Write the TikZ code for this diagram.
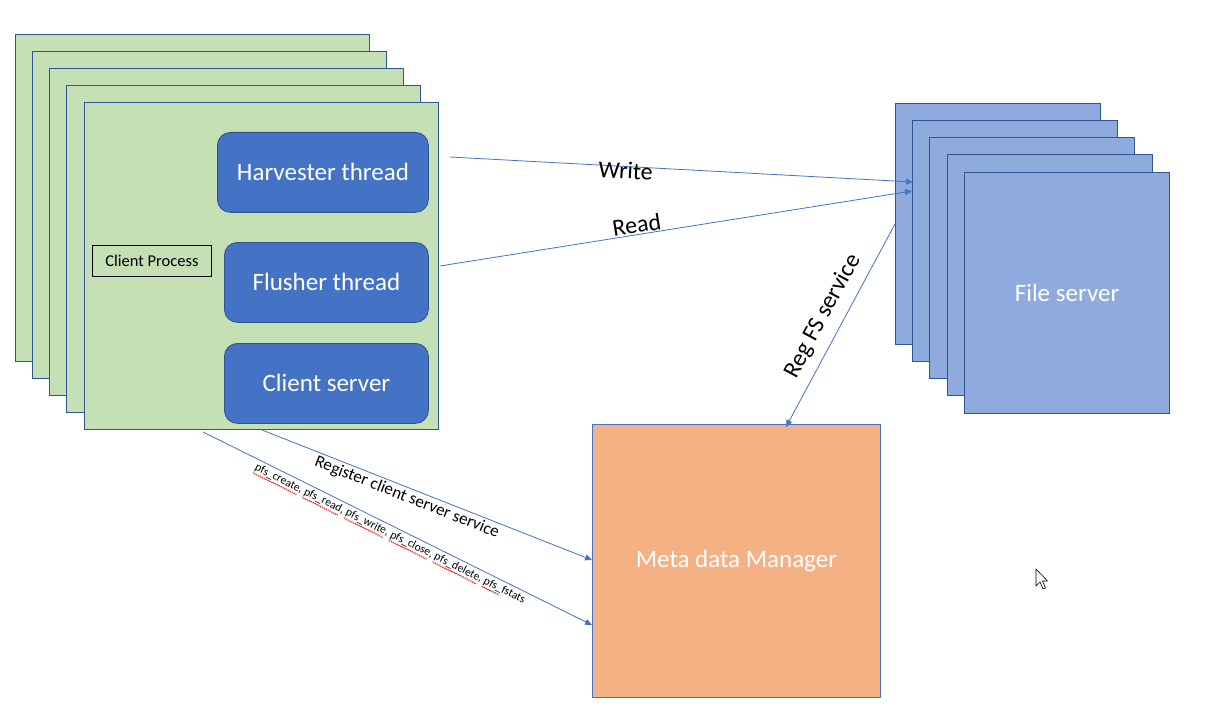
\documentclass[tikz,border=0pt]{standalone}
\usepackage{fontspec}
\setmainfont{Carlito}
\usetikzlibrary{arrows.meta,decorations.pathmorphing}
\definecolor{cgreen}{HTML}{C5E0B4}
\definecolor{cedge}{HTML}{2F5597}
\definecolor{cthread}{HTML}{4472C4}
\definecolor{cthreadedge}{HTML}{2F528F}
\definecolor{cfs}{HTML}{8FAADC}
\definecolor{cmdm}{HTML}{F4B183}
\definecolor{carrow}{HTML}{4472C4}
\newcommand{\spellsq}[1]{\tikz[baseline=(w.base)]{\node[inner sep=0pt,outer sep=0pt] (w) {#1};\draw[arrows=-,draw=red,line width=0.45pt,decorate,decoration={snake,amplitude=0.6pt,segment length=2.4pt}] ([yshift=-1.4pt]w.south west) -- ([yshift=-1.4pt]w.south east);}}
\begin{document}
\begin{tikzpicture}[x=1pt,y=-1pt,
  procbox/.style={draw=cedge,fill=cgreen,line width=1pt,anchor=north west,inner sep=0pt,minimum width=354pt,minimum height=327pt},
  fsbox/.style={draw=cedge,fill=cfs,line width=1pt,anchor=north west,inner sep=0pt,minimum width=205pt,minimum height=241pt},
  threadbox/.style={draw=cthreadedge,fill=cthread,line width=0.8pt,rounded corners=13pt,anchor=north west,inner sep=0pt,minimum height=80pt,text=white,font=\fontsize{25}{30}\selectfont},
  conn/.style={draw=carrow,line width=0.8pt,-{Triangle[length=7pt,width=6pt]}},
  lbl/.style={font=\fontsize{24}{28}\selectfont,text=black,inner sep=1pt}
]
\useasboundingbox (0,0) rectangle (1223,714);
\fill[white] (0,0) rectangle (1223,714);
% client process stack
\node[procbox] (p1) at (15,34) {};
\node[procbox] (p2) at (32,51) {};
\node[procbox] (p3) at (49,68) {};
\node[procbox] (p4) at (66,85) {};
\node[procbox] (p5) at (84,102) {};
\node[threadbox,minimum width=211pt] (harv) at (217,132) {Harvester thread};
\node[threadbox,minimum width=204pt] (flush) at (224,242) {Flusher thread};
\node[threadbox,minimum width=204pt] (cserv) at (224,343) {Client server};
\node[draw=black,line width=0.8pt,anchor=north west,inner sep=0pt,minimum width=119pt,minimum height=31pt,font=\fontsize{16.5}{19}\selectfont] (cp) at (92,245) {Client Process};
% file server stack
\node[fsbox] (f1) at (895,103) {};
\node[fsbox] (f2) at (912,120) {};
\node[fsbox] (f3) at (929,137) {};
\node[fsbox] (f4) at (947,154) {};
\node[fsbox,text=white,font=\fontsize{25}{30}\selectfont] (f5) at (964,172) {File server};
% meta data manager
\node[draw=cthread,fill=cmdm,line width=0.8pt,anchor=north west,inner sep=0pt,minimum width=288pt,minimum height=273pt,text=white,font=\fontsize{25}{30}\selectfont] (mdm) at (592,424) {Meta data Manager};
% connector end points
\coordinate (wA) at (450,157);
\coordinate (wB) at (913,182);
\coordinate (rA) at (440,266);
\coordinate (rB) at (912,191);
\coordinate (gA) at (895,224);
\coordinate (gB) at (786,427);
\coordinate (cA) at (262,430);
\coordinate (cB) at (592,560);
\coordinate (pA) at (203,432);
\coordinate (pB) at (592,625);
\draw[conn] (wA) -- (wB) node[lbl,pos=0.38,sloped,yshift=-4pt] (wlbl) {Write};
\draw[conn] (rA) -- (rB) node[lbl,pos=0.42,sloped,above,inner sep=1pt] (rlbl) {Read};
\draw[conn] (gA) -- (gB);
\node[lbl,rotate=61.7] (reglbl) at (823,316) {Reg FS service};
\draw[conn] (cA) -- (cB) node[pos=0.45,sloped,below,inner sep=2pt,font=\fontsize{17}{20}\selectfont] (reglbl2) {Register client server service};
\draw[conn] (pA) -- (pB);
\path (pA) -- (pB) node[pos=0.49,sloped,below,inner sep=3pt,font=\fontsize{11.5}{13}\selectfont] (pfslbl) {\spellsq{pfs\_create},\ \spellsq{pfs\_read},\ \spellsq{pfs\_write},\ \spellsq{pfs\_close},\ \spellsq{pfs\_delete},\ \spellsq{pfs\_}fstats};
% mouse cursor
\draw[fill=white,line width=0.6pt,line join=round] (1036,569) -- (1036,586) -- (1040,582) -- (1043,589) -- (1045.5,588) -- (1042.5,581) -- (1047.5,581) -- cycle;
\end{tikzpicture}
\end{document}
